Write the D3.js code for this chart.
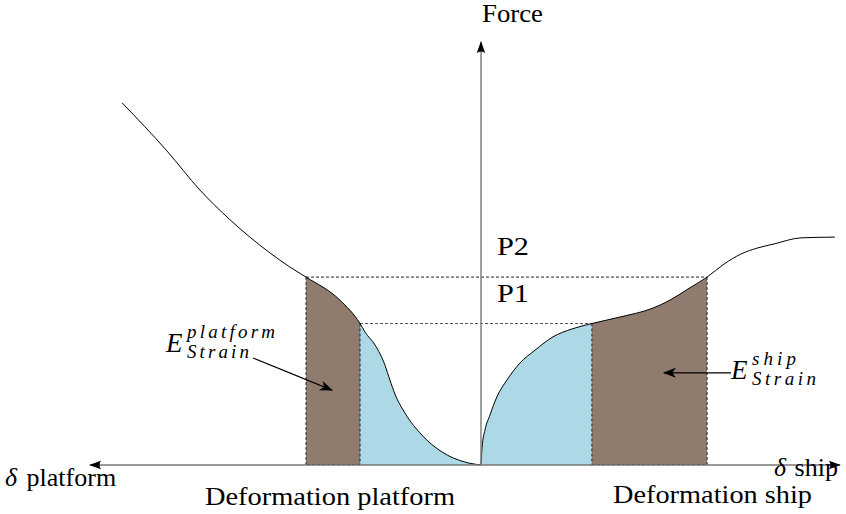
<!DOCTYPE html>
<html>
<head>
<meta charset="utf-8">
<script src="https://cdn.jsdelivr.net/npm/d3@7"></script>
</head>
<body style="margin:0;background:#fff">
<svg id="chart" width="846" height="514"></svg>
<script>
// Platform force–deformation curve: [deformation, force]
const platformCurve = [
  [0, 0], [0.44, 0.08], [1.08, 0.36], [1.64, 0.83], [2.11, 1.44], [2.39, 1.97],
  [2.53, 2.36], [2.67, 2.78], [2.94, 3.33], [3.22, 3.69], [3.36, 3.93], [3.92, 4.58],
  [4.86, 5.22], [5.31, 5.5], [5.86, 5.89], [6.42, 6.33], [6.97, 6.81], [7.81, 7.64],
  [8.72, 8.72], [9.97, 10.06]
];
// Ship force–deformation curve: [deformation, force]
const shipCurve = [
  [0, 0], [0.03, 0.5], [0.11, 0.97], [0.25, 1.39], [0.44, 1.89], [0.72, 2.36],
  [1.08, 2.83], [1.5, 3.19], [2.0, 3.56], [2.53, 3.78], [3.08, 3.93], [3.86, 4.11],
  [4.78, 4.36], [5.25, 4.58], [5.75, 4.89], [6.28, 5.22], [6.75, 5.58], [7.22, 5.86],
  [7.69, 6.03], [8.14, 6.14], [8.89, 6.31], [9.83, 6.33]
];
// Contact force levels and the deformation reached on each side
const levelNames = ["P1", "P2"];
const levelForces = [3.93, 5.22];
const platformDeformation = [3.36, 4.86];
const shipDeformation = [3.08, 6.28];
// Axis extents (deformation to each side, force upward)
const axisPlatformMax = 10.86;
const axisShipMax = 9.97;
const axisForceMax = 11.75;

const FONT = "Liberation Serif";
const svg = d3.select("#chart");
const x = d3.scaleLinear().domain([-10, 10]).range([121, 841]);
const y = d3.scaleLinear().domain([0, 12]).range([465, 33]);

const brown = "#8f7c6f";
const blue = "#add8e6";
const curve = d3.curveMonotoneX;

// text helper: every label carries its own font settings
function label(parent, px, py, size, str, italic) {
  const t = parent.append("text").attr("x", px).attr("y", py)
    .attr("font-family", FONT).attr("font-size", size).attr("fill", "#000");
  if (italic) t.attr("font-style", "italic");
  if (str !== null) t.text(str);
  return t;
}

const defs = svg.append("defs");
// arrowheads
defs.append("marker").attr("id", "axisHead")
  .attr("markerUnits", "userSpaceOnUse").attr("viewBox", "-12 -6 14 12")
  .attr("refX", 0).attr("refY", 0).attr("markerWidth", 14).attr("markerHeight", 12)
  .attr("orient", "auto")
  .append("path").attr("d", "M1,0 L-11,-4.2 Q-8,0 -11,4.2 Z").attr("fill", "#000");
defs.append("marker").attr("id", "noteHead")
  .attr("markerUnits", "userSpaceOnUse").attr("viewBox", "-14 -7 16 14")
  .attr("refX", 0).attr("refY", 0).attr("markerWidth", 16).attr("markerHeight", 14)
  .attr("orient", "auto")
  .append("path").attr("d", "M1,0 L-12,-5 L-8.5,0 L-12,5 Z").attr("fill", "#000");

// signed curves: platform plotted to the left
const sides = [
  { pts: platformCurve, sign: -1, defs: platformDeformation },
  { pts: shipCurve, sign: 1, defs: shipDeformation }
];
// points in pixel space, ordered left to right for the monotone curve
function pixelPts(side) {
  return side.pts.map(d => [x(side.sign * d[0]), y(d[1])]).sort((a, b) => a[0] - b[0]);
}

// fills: elastic part (blue) and strain energy band (brown)
sides.forEach((side, i) => {
  const areaPath = d3.area().x(d => d[0]).y0(y(0)).y1(d => d[1]).curve(curve)(pixelPts(side));
  const bands = [
    { from: 0, to: side.defs[0], color: blue },
    { from: side.defs[0], to: side.defs[1], color: brown }
  ];
  bands.forEach((b, j) => {
    const id = `clip-${i}-${j}`;
    const xa = x(side.sign * b.from), xb = x(side.sign * b.to);
    defs.append("clipPath").attr("id", id).append("rect")
      .attr("x", Math.min(xa, xb)).attr("y", 0)
      .attr("width", Math.abs(xb - xa)).attr("height", y(0));
    svg.append("path").attr("d", areaPath)
      .attr("fill", b.color).attr("clip-path", `url(#${id})`);
  });
});

// dashed level lines
levelForces.forEach((f, i) => {
  svg.append("line")
    .attr("x1", x(-platformDeformation[i])).attr("x2", x(shipDeformation[i]))
    .attr("y1", y(f)).attr("y2", y(f))
    .attr("stroke", i === 0 ? "#555" : "#222").attr("stroke-width", 1)
    .attr("stroke-dasharray", "3,2");
});

// dashed verticals and bottoms of the brown bands
sides.forEach(side => {
  side.defs.forEach((d, i) => {
    svg.append("line")
      .attr("x1", x(side.sign * d)).attr("x2", x(side.sign * d))
      .attr("y1", y(levelForces[i])).attr("y2", y(0))
      .attr("stroke", "#222").attr("stroke-width", 1).attr("stroke-dasharray", "3,2");
  });
  svg.append("line")
    .attr("x1", x(side.sign * side.defs[0])).attr("x2", x(side.sign * side.defs[1]))
    .attr("y1", y(0) - 0.5).attr("y2", y(0) - 0.5)
    .attr("stroke", "#222").attr("stroke-width", 1).attr("stroke-dasharray", "3,2");
});

// curves
const line = d3.line().curve(curve);
sides.forEach(side => {
  svg.append("path")
    .attr("d", line(pixelPts(side)))
    .attr("fill", "none").attr("stroke", "#000").attr("stroke-width", 1);
});

// axes
svg.append("line")
  .attr("x1", x(0)).attr("x2", x(-axisPlatformMax)).attr("y1", y(0)).attr("y2", y(0))
  .attr("stroke", "#777").attr("stroke-width", 1.4).attr("marker-end", "url(#axisHead)");
svg.append("line")
  .attr("x1", x(0)).attr("x2", x(axisShipMax)).attr("y1", y(0)).attr("y2", y(0))
  .attr("stroke", "#777").attr("stroke-width", 1.4).attr("marker-end", "url(#axisHead)");
svg.append("line")
  .attr("x1", x(0)).attr("x2", x(0)).attr("y1", y(0)).attr("y2", y(axisForceMax))
  .attr("stroke", "#777").attr("stroke-width", 1.4).attr("marker-end", "url(#axisHead)");

// axis labels
label(svg, x(0) + 1, 22, 26, "Force")
  .attr("textLength", 61).attr("lengthAdjust", "spacingAndGlyphs");
const lp = label(svg, 5, 486, 26, null);
lp.append("tspan").attr("font-style", "italic").text("δ");
lp.append("tspan").attr("dx", 3).text(" platform");
const ls = label(svg, 774, 476, 26, null);
ls.append("tspan").attr("font-style", "italic").text("δ");
ls.append("tspan").attr("dx", 2).text(" ship");
label(svg, 205, 505, 26, "Deformation platform")
  .attr("textLength", 250).attr("lengthAdjust", "spacingAndGlyphs");
label(svg, 613, 503, 26, "Deformation ship")
  .attr("textLength", 199).attr("lengthAdjust", "spacingAndGlyphs");

// level labels
levelForces.forEach((f, i) => {
  label(svg, x(0) + 16, y(f) - 22, 26, levelNames[i])
    .attr("textLength", 32).attr("lengthAdjust", "spacingAndGlyphs");
});

// strain energy labels
function energyLabel(ex, ey, sup, supLen, subLen) {
  label(svg, ex, ey, 27, "E", true);
  label(svg, ex + 21, ey - 14, 19, sup, true)
    .attr("textLength", supLen).attr("lengthAdjust", "spacing");
  label(svg, ex + 21, ey + 6, 19, "Strain", true)
    .attr("textLength", subLen).attr("lengthAdjust", "spacing");
}
energyLabel(166, 352, "platform", 88, 62);
energyLabel(731, 379, "ship", 44, 64);

// pointer arrows into the brown bands
svg.append("line").attr("x1", 253).attr("y1", 358)
  .attr("x2", x(-4.14)).attr("y2", y(2.08))
  .attr("stroke", "#000").attr("stroke-width", 1.1).attr("marker-end", "url(#noteHead)");
svg.append("line").attr("x1", 731).attr("y1", y(2.56))
  .attr("x2", x(5.08)).attr("y2", y(2.56))
  .attr("stroke", "#000").attr("stroke-width", 1.1).attr("marker-end", "url(#noteHead)");
</script>
</body>
</html>
